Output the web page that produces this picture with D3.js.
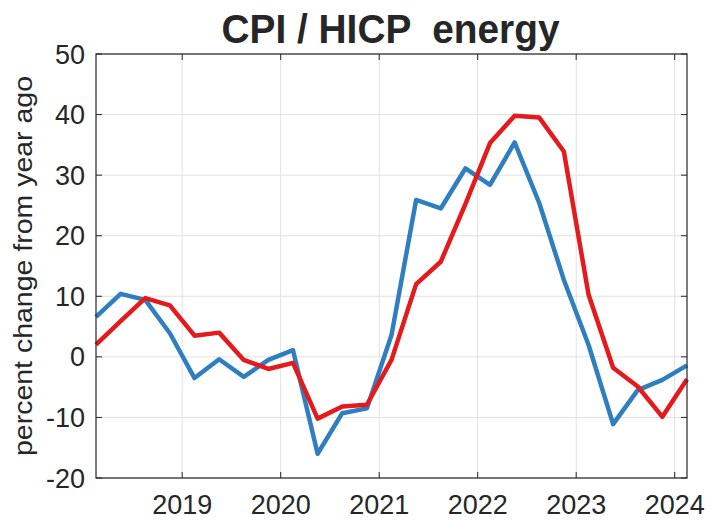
<!DOCTYPE html>
<html>
<head>
<meta charset="utf-8">
<script src="https://cdn.jsdelivr.net/npm/d3@7"></script>
<style>
  body { margin: 0; background: #fff; }
  text { font-family: "Liberation Sans", Arial, Helvetica, sans-serif; fill: #262626; }
</style>
</head>
<body>
<svg id="chart" width="707" height="520"></svg>
<script>
// quarterly observations, 2018Q1 .. 2024Q1
const quarters = ["2018Q1","2018Q2","2018Q3","2018Q4","2019Q1","2019Q2","2019Q3","2019Q4",
  "2020Q1","2020Q2","2020Q3","2020Q4","2021Q1","2021Q2","2021Q3","2021Q4",
  "2022Q1","2022Q2","2022Q3","2022Q4","2023Q1","2023Q2","2023Q3","2023Q4","2024Q1"];
// CPI energy (blue)
const cpiEnergy = [6.6, 10.4, 9.4, 3.9, -3.5, -0.4, -3.3, -0.5, 1.1, -16.0, -9.3, -8.5, 3.6,
  25.9, 24.5, 31.1, 28.4, 35.4, 25.4, 12.7, 2.0, -11.1, -5.5, -3.8, -1.4];
// HICP energy (red)
const hicpEnergy = [2.0, 5.9, 9.7, 8.5, 3.5, 4.0, -0.5, -2.0, -1.0, -10.2, -8.2, -7.9, -0.5,
  12.0, 15.7, 25.2, 35.3, 39.8, 39.5, 33.9, 10.3, -1.8, -4.9, -9.9, -3.7];
const xTicks = [2019, 2020, 2021, 2022, 2023, 2024];
const yTicks = [-20, -10, 0, 10, 20, 30, 40, 50];

const svg = d3.select("#chart");
const mLeft = 96, mRight = 687, mTop = 54, mBottom = 478;

// quarter -> decimal year at mid quarter
const toYear = q => +q.slice(0, 4) + (+q.slice(5) - 0.5) / 4;

const x = d3.scaleLinear().domain([toYear(quarters[0]), toYear(quarters[quarters.length - 1])]).range([mLeft, mRight]);
const y = d3.scaleLinear().domain([-20, 50]).range([mBottom, mTop]);

// grid
const grid = svg.append("g");
grid.selectAll(".gx").data(xTicks).enter().append("line")
  .attr("x1", d => x(d)).attr("x2", d => x(d))
  .attr("y1", mTop).attr("y2", mBottom)
  .attr("stroke", "#e1e1e1").attr("stroke-width", 1);
grid.selectAll(".gy").data(yTicks).enter().append("line")
  .attr("x1", mLeft).attr("x2", mRight)
  .attr("y1", d => y(d)).attr("y2", d => y(d))
  .attr("stroke", "#e1e1e1").attr("stroke-width", 1);

// lines
const line = vals => d3.line()
  .x((d, i) => x(toYear(quarters[i])))
  .y(d => y(d))(vals);

svg.append("path").attr("d", line(cpiEnergy))
  .attr("fill", "none").attr("stroke", "#2f7fc0").attr("stroke-width", 4.5)
  .attr("stroke-linejoin", "round");
svg.append("path").attr("d", line(hicpEnergy))
  .attr("fill", "none").attr("stroke", "#e41a1c").attr("stroke-width", 4.5)
  .attr("stroke-linejoin", "round");

// box with inward ticks
const axisCol = "#262626";
const box = svg.append("g");
box.append("rect").attr("x", mLeft).attr("y", mTop)
  .attr("width", mRight - mLeft).attr("height", mBottom - mTop)
  .attr("fill", "none").attr("stroke", axisCol).attr("stroke-width", 1.2);

const tk = 6;
xTicks.forEach(d => {
  box.append("line").attr("x1", x(d)).attr("x2", x(d)).attr("y1", mBottom).attr("y2", mBottom - tk).attr("stroke", axisCol);
  box.append("line").attr("x1", x(d)).attr("x2", x(d)).attr("y1", mTop).attr("y2", mTop + tk).attr("stroke", axisCol);
});
yTicks.forEach(d => {
  box.append("line").attr("x1", mLeft).attr("x2", mLeft + tk).attr("y1", y(d)).attr("y2", y(d)).attr("stroke", axisCol);
  box.append("line").attr("x1", mRight).attr("x2", mRight - tk).attr("y1", y(d)).attr("y2", y(d)).attr("stroke", axisCol);
});

// tick labels
svg.selectAll(".xl").data(xTicks).enter().append("text")
  .attr("x", d => x(d)).attr("y", 514)
  .attr("text-anchor", "middle").attr("font-size", 27)
  .text(d => d);
svg.selectAll(".yl").data(yTicks).enter().append("text")
  .attr("x", 85).attr("y", d => y(d) + 9.5)
  .attr("text-anchor", "end").attr("font-size", 27)
  .text(d => d);

// y label
svg.append("text")
  .attr("transform", `translate(32,${(mTop + mBottom) / 2}) rotate(-90)`)
  .attr("text-anchor", "middle").attr("font-size", 25)
  .attr("textLength", 380).attr("lengthAdjust", "spacingAndGlyphs")
  .text("percent change from year ago");

// title
svg.append("text")
  .attr("x", (mLeft + mRight) / 2 - 1).attr("y", 43)
  .attr("text-anchor", "middle").attr("font-size", 40).attr("font-weight", "bold")
  .attr("textLength", 338).attr("lengthAdjust", "spacingAndGlyphs")
  .style("white-space", "pre")
  .text("CPI / HICP  energy");
</script>
</body>
</html>
